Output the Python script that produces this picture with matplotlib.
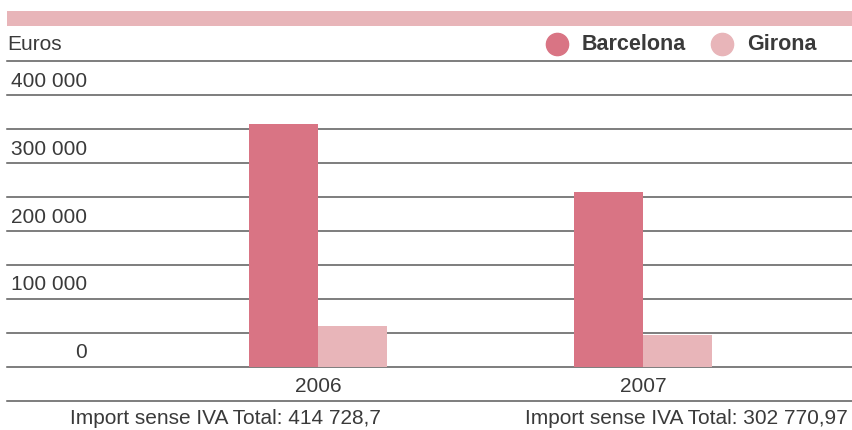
import numpy as np
import matplotlib.pyplot as plt
from matplotlib.lines import Line2D
from matplotlib.patches import Rectangle

years = ['2006', '2007']
barcelona = [357000, 257000]
girona = [61000, 47000]
totals = ['Import sense IVA Total: 414 728,7', 'Import sense IVA Total: 302 770,97']
ytick_vals = [0, 100000, 200000, 300000, 400000]
ytick_labels = ['0', '100 000', '200 000', '300 000', '400 000']

c_bcn = '#d97484'
c_gir = '#e8b5b9'
c_txt = '#3a3a3a'
c_grid = '#5a5a5a'
fs = 15

plt.rcParams['font.family'] = ['Liberation Sans', 'DejaVu Sans']

W, H = 853, 430
fig = plt.figure(figsize=(W / 100, H / 100), dpi=100)

def fx(px):
    return px / W

def fy(py):
    return 1 - py / H

# axes from baseline (y=367) to 450 000 line (y=61)
ax = fig.add_axes([fx(7), fy(367), fx(846), (367 - 61) / H])
ax.set_ylim(0, 450000)
ax.set_xlim(-0.957, 1.646)
for s in ax.spines.values():
    s.set_visible(False)
ax.set_yticks([])

x = np.arange(len(years))
w = 0.212
ax.bar(x - w / 2, barcelona, w, color=c_bcn, zorder=3)
ax.bar(x + w / 2, girona, w, color=c_gir, zorder=3)

for v in np.arange(0, 450001, 50000):
    ax.axhline(v, color=c_grid, lw=1.1, zorder=2, clip_on=False)

for v, lab in zip(ytick_vals, ytick_labels):
    ax.annotate(lab, xy=(0, v), xycoords=('axes fraction', 'data'),
                xytext=(80, 14), textcoords='offset pixels',
                ha='right', va='center', fontsize=fs, color=c_txt)

ax.set_xticks(x)
ax.set_xticklabels(years, fontsize=fs, color=c_txt)
ax.tick_params(axis='x', length=0, pad=7)

# line under the year labels
fig.add_artist(Line2D([fx(7), 1], [fy(401), fy(401)], color=c_grid, lw=1.1))

# top band
fig.add_artist(Rectangle((fx(7), fy(26)), 1 - fx(7), (26 - 11) / H,
                         color=c_gir, lw=0))

fig.text(fx(7), fy(44), 'Euros', ha='left', va='center', fontsize=fs, color=c_txt)

# legend
fig.add_artist(Line2D([fx(557)], [fy(44)], marker='o', ms=16, color=c_bcn, lw=0))
fig.text(fx(582), fy(44), 'Barcelona', ha='left', va='center', fontsize=fs + 0.5,
         fontweight='bold', color=c_txt)
fig.add_artist(Line2D([fx(722)], [fy(44)], marker='o', ms=16, color=c_gir, lw=0))
fig.text(fx(747), fy(44), 'Girona', ha='left', va='center', fontsize=fs + 0.5,
         fontweight='bold', color=c_txt)

fig.text(fx(225), fy(418), totals[0], ha='center', va='center', fontsize=fs, color=c_txt)
fig.text(fx(686), fy(418), totals[1], ha='center', va='center', fontsize=fs, color=c_txt)

fig.savefig('out.png', dpi=100)
